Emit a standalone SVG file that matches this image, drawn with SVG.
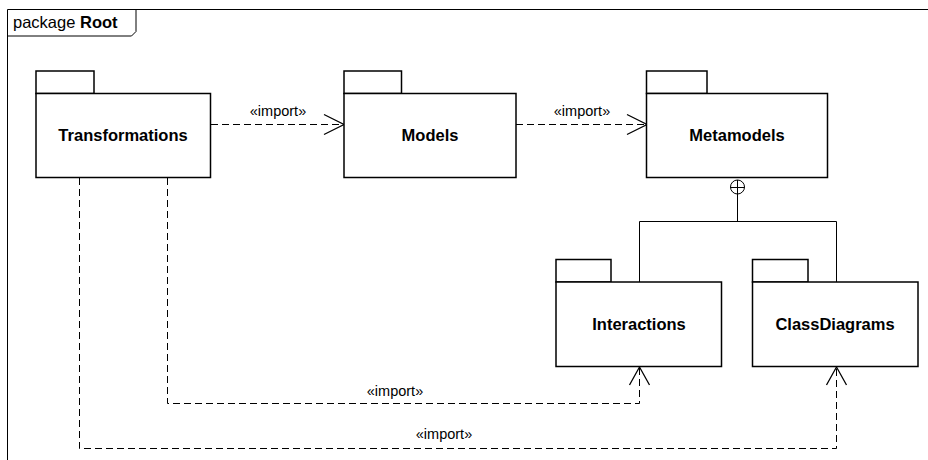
<svg xmlns="http://www.w3.org/2000/svg" width="928" height="460" viewBox="0 0 928 460">
  <style>
    .pkg { fill: #ffffff; stroke: #000000; stroke-width: 1.5; }
    .name { font-family: "Liberation Sans", Arial, sans-serif; font-weight: bold; font-size: 16.5px; text-anchor: middle; fill: #000000; }
    .dep { fill: none; stroke: #000000; stroke-width: 1; stroke-dasharray: 7 4; }
    .head { fill: none; stroke: #000000; stroke-width: 1.3; }
    .solid { fill: none; stroke: #000000; stroke-width: 1; }
    .stereo { font-family: "Liberation Sans", Arial, sans-serif; font-size: 14.5px; text-anchor: middle; fill: #000000; }
    .frame-label { font-family: "Liberation Sans", Arial, sans-serif; font-size: 16.5px; fill: #000000; }
  </style>

  <rect x="0" y="0" width="928" height="460" fill="#ffffff"/>

  <!-- package frame -->
  <g id="frame">
    <path class="solid" d="M7.5,470 L7.5,9.5 L940,9.5" stroke-width="1.5"/>
    <path class="solid" d="M7.5,36 L131.5,36 L136,31.5 L136,9.5" stroke-width="1.2"/>
    <text class="frame-label" x="13" y="28">package <tspan font-weight="bold">Root</tspan></text>
  </g>

  <!-- connectors -->
  <g id="connectors">
    <!-- Transformations -> Models -->
    <path class="dep" d="M211,124.5 L343,124.5"/>
    <path class="head" d="M324,114.5 L344,124.5 L324,134.5"/>
    <text class="stereo" x="278" y="116">«import»</text>

    <!-- Models -> Metamodels -->
    <path class="dep" d="M516,124.5 L645,124.5"/>
    <path class="head" d="M627,114.5 L647,124.5 L627,134.5"/>
    <text class="stereo" x="582" y="116">«import»</text>

    <!-- Metamodels nesting -->
    <circle class="solid" cx="737.5" cy="187" r="7"/>
    <path class="solid" d="M730.5,187.5 L744.5,187.5 M737.5,180 L737.5,221.5 M639.5,282 L639.5,221.5 L836.5,221.5 L836.5,282"/>

    <!-- Transformations -> Interactions -->
    <path class="dep" d="M167.5,178 L167.5,403.5 L639.5,403.5 L639.5,368"/>
    <path class="head" d="M629.5,385 L639.5,367 L649.5,385"/>
    <text class="stereo" x="395" y="396">«import»</text>

    <!-- Transformations -> ClassDiagrams -->
    <path class="dep" d="M79.5,178 L79.5,448.5 L836.5,448.5 L836.5,368"/>
    <path class="head" d="M826.5,385 L836.5,367 L846.5,385"/>
    <text class="stereo" x="444" y="439">«import»</text>
  </g>

  <!-- packages -->
  <g id="transformations">
    <rect class="pkg" x="36" y="71" width="58" height="22.5"/>
    <rect class="pkg" x="36" y="93.5" width="174.5" height="84"/>
    <text class="name" x="123" y="141">Transformations</text>
  </g>

  <g id="models">
    <rect class="pkg" x="344" y="71" width="57.5" height="22.5"/>
    <rect class="pkg" x="344" y="93.5" width="172" height="84"/>
    <text class="name" x="430" y="141">Models</text>
  </g>

  <g id="metamodels">
    <rect class="pkg" x="646.5" y="71" width="60.5" height="22.5"/>
    <rect class="pkg" x="646.5" y="93.5" width="181" height="84"/>
    <text class="name" x="737" y="141">Metamodels</text>
  </g>

  <g id="interactions">
    <rect class="pkg" x="556" y="259.5" width="55" height="22.5"/>
    <rect class="pkg" x="556" y="282" width="165.5" height="84.5"/>
    <text class="name" x="639" y="330">Interactions</text>
  </g>

  <g id="classdiagrams">
    <rect class="pkg" x="752.5" y="259.5" width="55.5" height="22.5"/>
    <rect class="pkg" x="752.5" y="282" width="165.5" height="84.5"/>
    <text class="name" x="835" y="330">ClassDiagrams</text>
  </g>
</svg>
